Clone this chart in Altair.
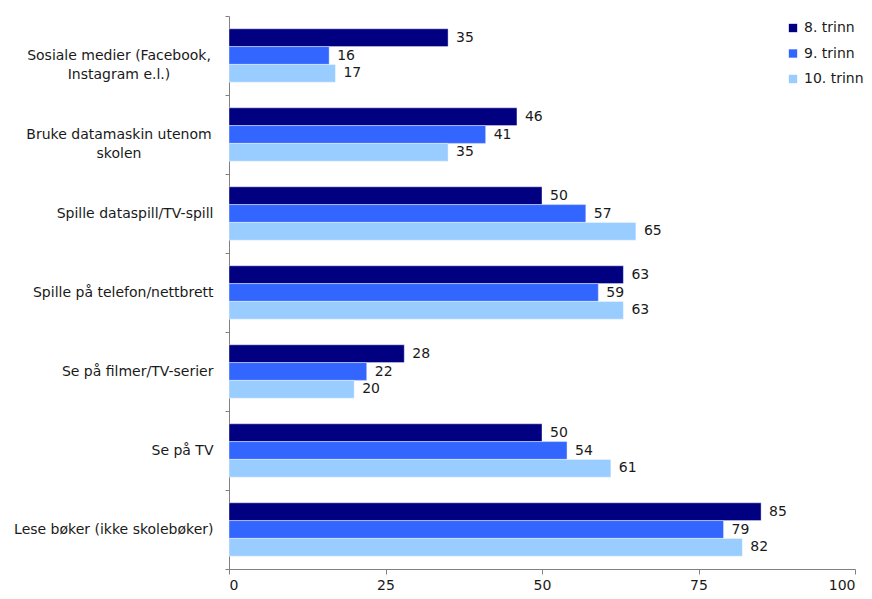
import altair as alt
import pandas as pd

categories = [
    "Sosiale medier (Facebook,\nInstagram e.l.)",
    "Bruke datamaskin utenom\nskolen",
    "Spille dataspill/TV-spill",
    "Spille på telefon/nettbrett",
    "Se på filmer/TV-serier",
    "Se på TV",
    "Lese bøker (ikke skolebøker)",
]
grades = ["8. trinn", "9. trinn", "10. trinn"]
trinn8 = [35, 46, 50, 63, 28, 50, 85]
trinn9 = [16, 41, 57, 59, 22, 54, 79]
trinn10 = [17, 35, 65, 63, 20, 61, 82]
colors = ["#000080", "#3366FF", "#99CCFF"]
x_ticks = [0, 25, 50, 75, 100]

rows = []
for i, c in enumerate(categories):
    for g, vals in zip(grades, [trinn8, trinn9, trinn10]):
        rows.append({"kategori": c, "trinn": g, "verdi": vals[i]})
df = pd.DataFrame(rows)

FONT = "DejaVu Sans"
TXT = "#1a1a1a"

y_enc = alt.Y(
    "kategori:N",
    sort=categories,
    scale=alt.Scale(paddingInner=0, paddingOuter=0),
    axis=alt.Axis(
        title=None,
        labelExpr="indexof(datum.label, '\\n') >= 0 ? '' : datum.label",
        labelAlign="right",
        labelPadding=12,
        labelLimit=0,
        labelFont=FONT,
        labelFontSize=14,
        labelColor=TXT,
        tickBand="extent",
        tickSize=4,
        tickColor="#808080",
        domainColor="#808080",
        grid=False,
    ),
)
yoff = alt.YOffset("trinn:N", sort=grades, scale=alt.Scale(paddingInner=0, paddingOuter=0.72))
x_enc = alt.X(
    "verdi:Q",
    scale=alt.Scale(domain=[0, 100], nice=False),
    axis=alt.Axis(
        title=None,
        values=x_ticks,
        grid=False,
        tickSize=5,
        tickColor="#808080",
        domainColor="#808080",
        labelFont=FONT,
        labelFontSize=14,
        labelColor=TXT,
        labelPadding=4,
    ),
)

base = alt.Chart(df)
bars = base.mark_bar(stroke="white", strokeWidth=0.4).encode(
    y=y_enc,
    yOffset=yoff,
    x=x_enc,
    color=alt.Color(
        "trinn:N",
        sort=grades,
        scale=alt.Scale(domain=grades, range=colors),
        legend=alt.Legend(
            title=None,
            orient="none",
            legendX=557,
            legendY=5,
            symbolType="square",
            symbolSize=70,
            symbolStrokeWidth=0,
            labelFont=FONT,
            labelFontSize=14,
            labelColor=TXT,
            labelOffset=4,
            rowPadding=11.5,
        ),
    ),
)
values = base.mark_text(align="left", dx=8, font=FONT, fontSize=14, color=TXT).encode(
    y=alt.Y("kategori:N", sort=categories),
    yOffset=yoff,
    x=alt.X("verdi:Q"),
    text=alt.Text("verdi:Q"),
)
# two-line category labels, centred as a block left of the axis
wrapped = (
    base.transform_filter("indexof(datum.kategori, '\\n') >= 0 && datum.trinn == '8. trinn'")
    .mark_text(
        align="center",
        baseline="middle",
        lineBreak="\n",
        lineHeight=19,
        font=FONT,
        fontSize=14,
        color=TXT,
    )
    .encode(
        y=alt.Y("kategori:N", sort=categories),
        x=alt.value(-110),
        text=alt.Text("kategori:N"),
    )
)

chart = (
    alt.layer(bars, values, wrapped)
    .properties(
        width=626,
        height=553,
        autosize=alt.AutoSizeParams(type="none"),
        padding={"left": 221, "top": 8, "right": 9, "bottom": 22},
    )
    .configure_view(stroke=None)
)

chart.save("out.html", embed_options={"renderer": "svg", "actions": False})
